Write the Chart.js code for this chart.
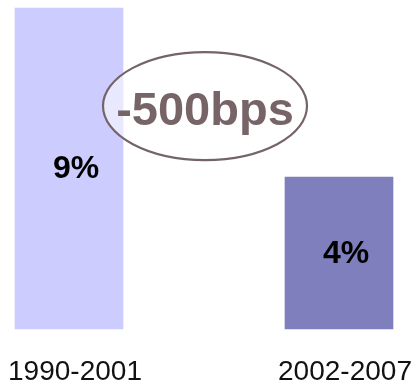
<!DOCTYPE html>
<html>
<head>
<meta charset="utf-8">
<script src="https://cdn.jsdelivr.net/npm/chart.js@4/dist/chart.umd.min.js"></script>
<style>
html,body{margin:0;padding:0;background:#fff;}
#wrap{width:420px;height:386px;position:relative;}
</style>
</head>
<body>
<div id="wrap"><canvas id="c" width="420" height="386"></canvas></div>
<script>
const categories = ['1990-2001', '2002-2007'];
const values = [9.0, 4.26];
const valueLabels = ['9%', '4%'];
const barColors = ['#CCCCFF', '#7F7FBD'];
const annotationText = '-500bps';

const barLabels = {
  id: 'barLabels',
  afterDatasetsDraw(chart) {
    const ctx = chart.ctx;
    const meta = chart.getDatasetMeta(0);
    ctx.save();
    ctx.font = 'bold 32px "Liberation Sans", Arial, sans-serif';
    ctx.fillStyle = '#000';
    ctx.textAlign = 'center';
    ctx.textBaseline = 'middle';
    meta.data.forEach((bar, i) => {
      const cy = (bar.y + bar.base) / 2 + 1;
      ctx.fillText(valueLabels[i], bar.x + 7, cy);
    });
    ctx.restore();
  }
};

const ellipseNote = {
  id: 'ellipseNote',
  afterDatasetsDraw(chart) {
    const ctx = chart.ctx;
    const meta = chart.getDatasetMeta(0);
    const ys = chart.scales.y;
    const x0 = meta.data[0].x, x1 = meta.data[1].x;
    const cx = (x0 + x1) / 2 + 1;
    const cy = ys.getPixelForValue(6.25);
    ctx.save();
    ctx.beginPath();
    ctx.ellipse(cx, cy, 102, 54, 0, 0, Math.PI * 2);
    ctx.fillStyle = 'rgba(255,255,255,0.55)';
    ctx.fill();
    ctx.lineWidth = 2.2;
    ctx.strokeStyle = '#746467';
    ctx.stroke();
    ctx.font = 'bold 47px "Liberation Sans", Arial, sans-serif';
    ctx.fillStyle = '#766466';
    ctx.textAlign = 'center';
    ctx.textBaseline = 'middle';
    ctx.fillText(annotationText, cx, cy + 6);
    ctx.restore();
  }
};

new Chart(document.getElementById('c'), {
  type: 'bar',
  data: {
    labels: categories,
    datasets: [{
      data: values,
      backgroundColor: barColors,
      borderWidth: 0,
      barThickness: 108,
      clip: false
    }]
  },
  options: {
    responsive: false,
    animation: false,
    events: [],
    layout: { padding: { top: 8, left: 69, right: 81, bottom: 0 } },
    plugins: { legend: { display: false }, tooltip: { enabled: false } },
    scales: {
      x: {
        offset: false,
        grid: { display: false },
        border: { display: false },
        afterFit(scale) {
          scale.height = 57;
          scale.paddingLeft = 0;
          scale.paddingRight = 0;
        },
        ticks: {
          color: '#111',
          font: { size: 28, family: '"Liberation Sans", Arial, sans-serif' },
          padding: 18,
          labelOffset: 6,
          maxRotation: 0,
          autoSkip: false
        }
      },
      y: {
        display: false,
        min: 0,
        max: 9
      }
    }
  },
  plugins: [barLabels, ellipseNote]
});
</script>
</body>
</html>
